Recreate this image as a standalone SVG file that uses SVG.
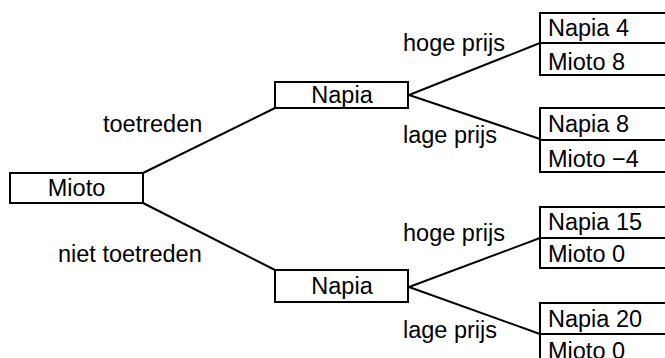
<svg xmlns="http://www.w3.org/2000/svg" width="665" height="358" viewBox="0 0 665 358">
<style>
rect{fill:#fff;stroke:#000;stroke-width:2}
line{stroke:#000;stroke-width:2}
text{font-family:"Liberation Sans",Arial,sans-serif;font-size:23.5px;fill:#000}
.m{text-anchor:middle}
</style>
<rect x="0" y="0" width="665" height="358" style="stroke:none"/>
<g id="connectors">
<line x1="143" y1="173" x2="275" y2="108"/>
<line x1="143" y1="203" x2="275" y2="270"/>
<line x1="409" y1="95" x2="540" y2="43"/>
<line x1="409" y1="95" x2="540" y2="139"/>
<line x1="409" y1="287" x2="540" y2="238"/>
<line x1="409" y1="287" x2="540" y2="334"/>
</g>
<g id="labels">
<text x="103" y="132">toetreden</text>
<text x="58" y="262">niet toetreden</text>
<text x="403" y="51">hoge prijs</text>
<text x="403" y="143">lage prijs</text>
<text x="403" y="241">hoge prijs</text>
<text x="403" y="338">lage prijs</text>
</g>
<g id="mioto">
<rect x="10" y="173" width="133" height="30"/>
<text class="m" x="76.5" y="196">Mioto</text>
</g>
<g id="napia1">
<rect x="275" y="82" width="133" height="26"/>
<text class="m" x="342" y="103">Napia</text>
</g>
<g id="napia2">
<rect x="275" y="270" width="133" height="32"/>
<text class="m" x="342" y="294">Napia</text>
</g>
<g id="payoff1">
<rect x="540" y="13" width="132" height="62"/>
<line x1="540" y1="43" x2="672" y2="43"/>
<text x="548" y="36">Napia 4</text>
<text x="548" y="70">Mioto 8</text>
</g>
<g id="payoff2">
<rect x="540" y="108" width="132" height="64"/>
<line x1="540" y1="140" x2="672" y2="140"/>
<text x="548" y="132">Napia 8</text>
<text x="548" y="167">Mioto −4</text>
</g>
<g id="payoff3">
<rect x="540" y="207" width="132" height="61"/>
<line x1="540" y1="238" x2="672" y2="238"/>
<text x="548" y="230">Napia 15</text>
<text x="548" y="262">Mioto 0</text>
</g>
<g id="payoff4">
<rect x="540" y="303" width="132" height="62"/>
<line x1="540" y1="334" x2="672" y2="334"/>
<text x="548" y="327">Napia 20</text>
<text x="548" y="359">Mioto 0</text>
</g>
</svg>
